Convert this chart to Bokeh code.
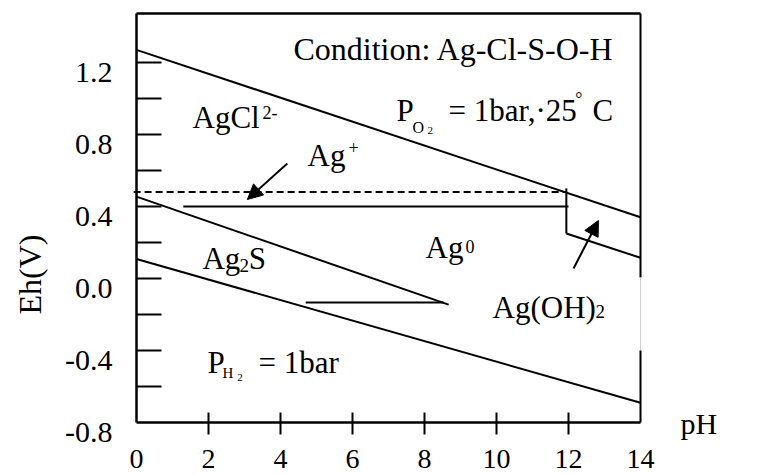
import math
from bokeh.plotting import figure
from bokeh.models import Range1d, Label, Arrow, NormalHead
from bokeh.core.properties import value
from bokeh.embed import file_html
from bokeh.resources import INLINE

# ---------------- data ----------------
y_tick_values = [-0.6, -0.4, -0.2, 0.0, 0.2, 0.4, 0.6, 0.8, 1.0, 1.2]
y_label_values = [1.2, 0.8, 0.4, 0.0, -0.4, -0.8]
y_label_text = ["1.2", "0.8", "0.4", "0.0", "-0.4", "-0.8"]
x_tick_values = [2, 4, 6, 8, 10, 12]
x_label_values = [0, 2, 4, 6, 8, 10, 12, 14]
x_label_text = ["0", "2", "4", "6", "8", "10", "12", "14"]

ph_min, ph_max = 0, 14
eh_min, eh_max = -0.8, 1.472

# boundary lines (pH, Eh)
o2_ph = [0, 14]
o2_eh = [1.27, 0.34]
agplus_ph = [-0.08, 11.92]
agplus_eh = [0.48, 0.48]
agcl_ag_ph = [1.3, 12.0]
agcl_ag_eh = [0.40, 0.40]
agoh_vert_ph = [11.94, 11.94]
agoh_vert_eh = [0.50, 0.25]
agoh_low_ph = [11.94, 14]
agoh_low_eh = [0.25, 0.115]
ag2s_upper_ph = [0, 8.67]
ag2s_upper_eh = [0.455, -0.145]
ag2s_mid_ph = [4.7, 8.53]
ag2s_mid_eh = [-0.133, -0.133]
h2_ph = [0, 14]
h2_eh = [0.108, -0.69]

FONT = "Liberation Serif"
W, H = 765, 475
PX_PER_PH, PX_PER_V = 36.0, 180.0
X0_PX, Y0_PX = 136.0, 278.0   # screen position of pH 0 / Eh 0

p = figure(width=W, height=H, output_backend="svg", toolbar_location=None,
           x_range=Range1d(-X0_PX / PX_PER_PH, (W - X0_PX) / PX_PER_PH),
           y_range=Range1d((Y0_PX - H) / PX_PER_V, Y0_PX / PX_PER_V),
           x_axis_location=None, y_axis_location=None, min_border=0)
p.outline_line_color = None
p.background_fill_color = "white"
p.border_fill_color = "white"
p.xgrid.visible = False
p.ygrid.visible = False

# axes and frame
p.line([ph_min, ph_min], [eh_min, eh_max], line_width=2.5, color="black")
p.line([ph_min, ph_max], [eh_min, eh_min], line_width=2.5, color="black")
p.line([ph_min, ph_max], [eh_max, eh_max], line_width=2.5, color="black")
p.line([ph_max, ph_max], [eh_max, 0.005], line_width=2, color="black")
p.line([ph_max, ph_max], [0.005, -0.40], line_width=1, color="#cfcfcf")
p.line([ph_max, ph_max], [-0.40, eh_min], line_width=2, color="black")

# ticks (inward on the Eh axis, crossing on the pH axis)
p.ray(x=[ph_min] * len(y_tick_values), y=y_tick_values, length=25, length_units="screen",
      angle=0, line_width=2, color="black")
p.ray(x=x_tick_values, y=[eh_min] * len(x_tick_values), length=10, length_units="screen",
      angle=math.pi / 2, line_width=2, color="black")
p.ray(x=x_tick_values, y=[eh_min] * len(x_tick_values), length=12, length_units="screen",
      angle=-math.pi / 2, line_width=2, color="black")

# tick labels
p.text(x=[ph_min] * len(y_label_values), y=y_label_values, text=y_label_text,
       x_offset=-24, y_offset=10, text_align="right", text_baseline="middle",
       text_font=value(FONT), text_font_size=value("30px"), text_color="black")
p.text(x=x_label_values, y=[eh_min] * len(x_label_values), text=x_label_text,
       y_offset=36, text_align="center", text_baseline="middle",
       text_font=value(FONT), text_font_size=value("28px"), text_color="black")

# boundaries
lw = 2
p.line(o2_ph, o2_eh, line_width=lw, color="black")
p.line(agplus_ph, agplus_eh, line_width=lw, color="black", line_dash="7 4")
p.line(agcl_ag_ph, agcl_ag_eh, line_width=lw, color="black")
p.line(agoh_vert_ph, agoh_vert_eh, line_width=lw, color="black")
p.line(agoh_low_ph, agoh_low_eh, line_width=lw, color="black")
p.line(ag2s_upper_ph, ag2s_upper_eh, line_width=lw, color="black")
p.line(ag2s_mid_ph, ag2s_mid_eh, line_width=lw, color="black")
p.line(h2_ph, h2_eh, line_width=lw, color="black")


def txt(x, y, s, size=30, **kw):
    opts = dict(text_font=FONT, text_font_size=f"{size}px", text_color="black",
                text_align="left", text_baseline="middle")
    opts.update(kw)
    p.add_layout(Label(x=x, y=y, text=s, **opts))


txt(4.36, 1.275, "Condition: Ag-Cl-S-O-H", 32)
txt(1.556, 0.896, "AgCl", 31)
txt(3.5, 0.923, "2-", 18)
txt(4.75, 0.684, "Ag", 31)
txt(6.03, 0.728, "+", 18, text_align="center")
txt(7.22, 0.936, "P", 31)
txt(7.67, 0.841, "O", 16)
txt(8.08, 0.821, "2", 11)
txt(8.67, 0.936, "= 1bar,\u00b725", 31)
txt(12.19, 0.998, "\u00b0", 18)
txt(12.67, 0.936, "C", 31)
txt(8.03, 0.173, "Ag", 31)
txt(9.14, 0.178, "0", 18)
txt(1.83, 0.112, "Ag", 31)
txt(2.86, 0.075, "2", 19)
txt(3.12, 0.112, "S", 31)
txt(9.89, -0.160, "Ag(OH)", 31)
txt(12.75, -0.181, "2", 19)
txt(1.97, -0.464, "P", 31)
txt(2.39, -0.527, "H", 15)
txt(2.8, -0.552, "2", 11)
txt(3.39, -0.464, "= 1bar", 31)
txt(15.11, -0.803, "pH", 30)
txt(-2.97, 0.022, "Eh(V)", 32, text_align="center", angle=math.pi / 2)

# arrows
p.add_layout(Arrow(end=NormalHead(size=15, fill_color="black", line_color="black", line_width=1),
                   x_start=4.19, y_start=0.639, x_end=3.08, y_end=0.439,
                   line_width=2, line_color="black"))
p.add_layout(Arrow(end=NormalHead(size=15, fill_color="black", line_color="black", line_width=1),
                   x_start=12.14, y_start=0.056, x_end=12.83, y_end=0.322,
                   line_width=2, line_color="black"))

open("out.html", "w").write(file_html(p, INLINE))
